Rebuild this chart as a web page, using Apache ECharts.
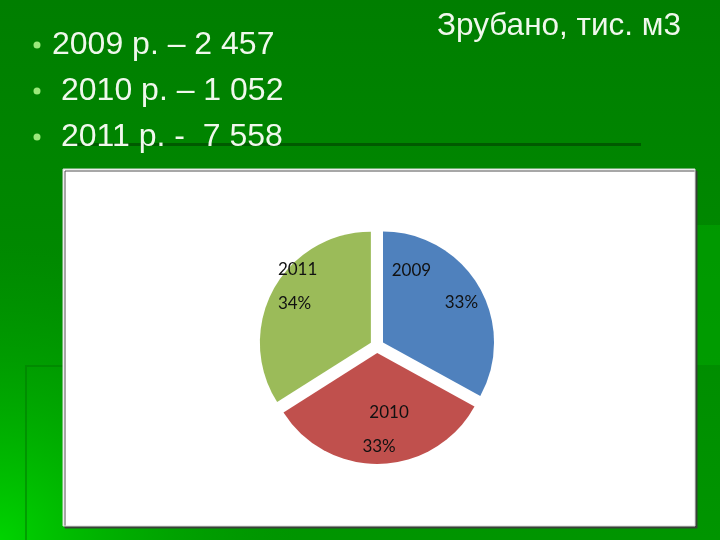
<!DOCTYPE html>
<html>
<head>
<meta charset="utf-8">
<script src="https://cdn.jsdelivr.net/npm/echarts@6/dist/echarts.min.js"></script>
<style>
html,body{margin:0;padding:0;}
#main{width:720px;height:540px;}
</style>
</head>
<body>
<div id="main"></div>
<script>
// дані слайду
var years = ['2009', '2010', '2011'];
var felled = ['2 457', '1 052', '7 558'];
var dashes = ['–', '–', '- '];
var shares = [33, 33, 34];
var title = 'Зрубано, тис. м3';

var sliceColors = ['#4f81bd', '#c0504d', '#9bbb59'];
// зсув підписів всередині секторів (як у Excel)
var labelShift = [[3, -26], [0, 18], [-22, -28]];

var myChart = echarts.init(document.getElementById('main'));

//рядки зі списком
var bulletX = [52, 61, 61];
var bulletY = [45, 91, 137];
var graphics = [
	{type:'rect', shape:{x:0,y:0,width:720,height:540}, z:0,
		style:{fill:new echarts.graphic.LinearGradient(0,0,0,1,[
			{offset:0,color:'#007e00'},{offset:1,color:'#009500'}])}},
	{type:'rect', shape:{x:0,y:0,width:720,height:540}, z:0,
		style:{fill:new echarts.graphic.RadialGradient(0,1,0.55,[
			{offset:0,color:'rgba(0,215,0,0.95)'},{offset:1,color:'rgba(0,160,0,0)'}])}},
	{type:'rect', shape:{x:696,y:225,width:24,height:140}, z:0,
		style:{fill:'rgba(0,170,0,0.5)'}},
	{type:'polyline', shape:{points:[[26,540],[26,366],[63,366]]}, z:0,
		style:{stroke:'rgba(0,120,0,0.5)',lineWidth:2,fill:null}},
	{type:'rect', shape:{x:63,y:143,width:578,height:3}, z:0,
		style:{fill:'#005a00'}},
	{type:'rect', shape:{x:63,y:169,width:632,height:357}, z:1,
		style:{fill:'#ffffff',stroke:'#d8d8d8',lineWidth:1,
			shadowColor:'rgba(60,60,60,0.9)',shadowOffsetX:2,shadowOffsetY:2,shadowBlur:0}},
	{type:'text', left:437, top:10, z:1,
		style:{text:title,fill:'#f0f8ec',font:'31.5px "Liberation Sans", Arial, sans-serif'}}
];
for (var i = 0; i < years.length; i++) {
	graphics.push({type:'circle', shape:{cx:37,cy:bulletY[i],r:3.5}, z:1,
		style:{fill:'#9be87a'}});
	graphics.push({type:'text', x:bulletX[i], y:bulletY[i], z:1,
		style:{text:years[i] + ' р. ' + dashes[i] + ' ' + felled[i],
			fill:'#f0f8ec', font:'32px "Liberation Sans", Arial, sans-serif',
			verticalAlign:'middle', align:'left'}});
}

var pieData = [];
for (var i = 0; i < years.length; i++) {
	pieData.push({name:years[i], value:shares[i], selected:true,
		itemStyle:{color:sliceColors[i]}});
}

var option = {
	animation:false,
	graphic:graphics,
	series:[{
		type:'pie',
		center:[377,346],
		radius:111,
		startAngle:90,
		clockwise:true,
		selectedMode:'multiple',
		selectedOffset:7,
		data:pieData,
		itemStyle:{borderWidth:0},
		emphasis:{disabled:true},
		label:{
			show:true,
			position:'inside',
			color:'#111',
			fontFamily:'Lato, "Open Sans", sans-serif',
			fontSize:17,
			formatter:function(p){
				if(p.dataIndex == 0) return '{l|' + p.name + '}\n{r|' + p.percent.toFixed(0) + '%}';
				if(p.dataIndex == 1) return '{s|' + p.name + '}\n{t|' + p.percent.toFixed(0) + '%}';
				return '{n|' + p.name + '}\n{n|' + p.percent.toFixed(0) + '%}';
			},
			rich:{
				l:{padding:[0,50,0,0],lineHeight:32,fontSize:17,color:'#111'},
				r:{padding:[0,0,0,50],lineHeight:32,fontSize:17,color:'#111'},
				s:{padding:[0,0,0,20],lineHeight:34,fontSize:17,color:'#111'},
				t:{padding:[0,0,0,0],lineHeight:34,fontSize:17,color:'#111'},
				n:{lineHeight:34,fontSize:17,color:'#111',align:'left'}
			}
		},
		labelLayout:function(p){
			var d = labelShift[p.dataIndex];
			return {dx:d[0], dy:d[1]};
		},
		labelLine:{show:false}
	}]
};
myChart.setOption(option);
</script>
</body>
</html>
